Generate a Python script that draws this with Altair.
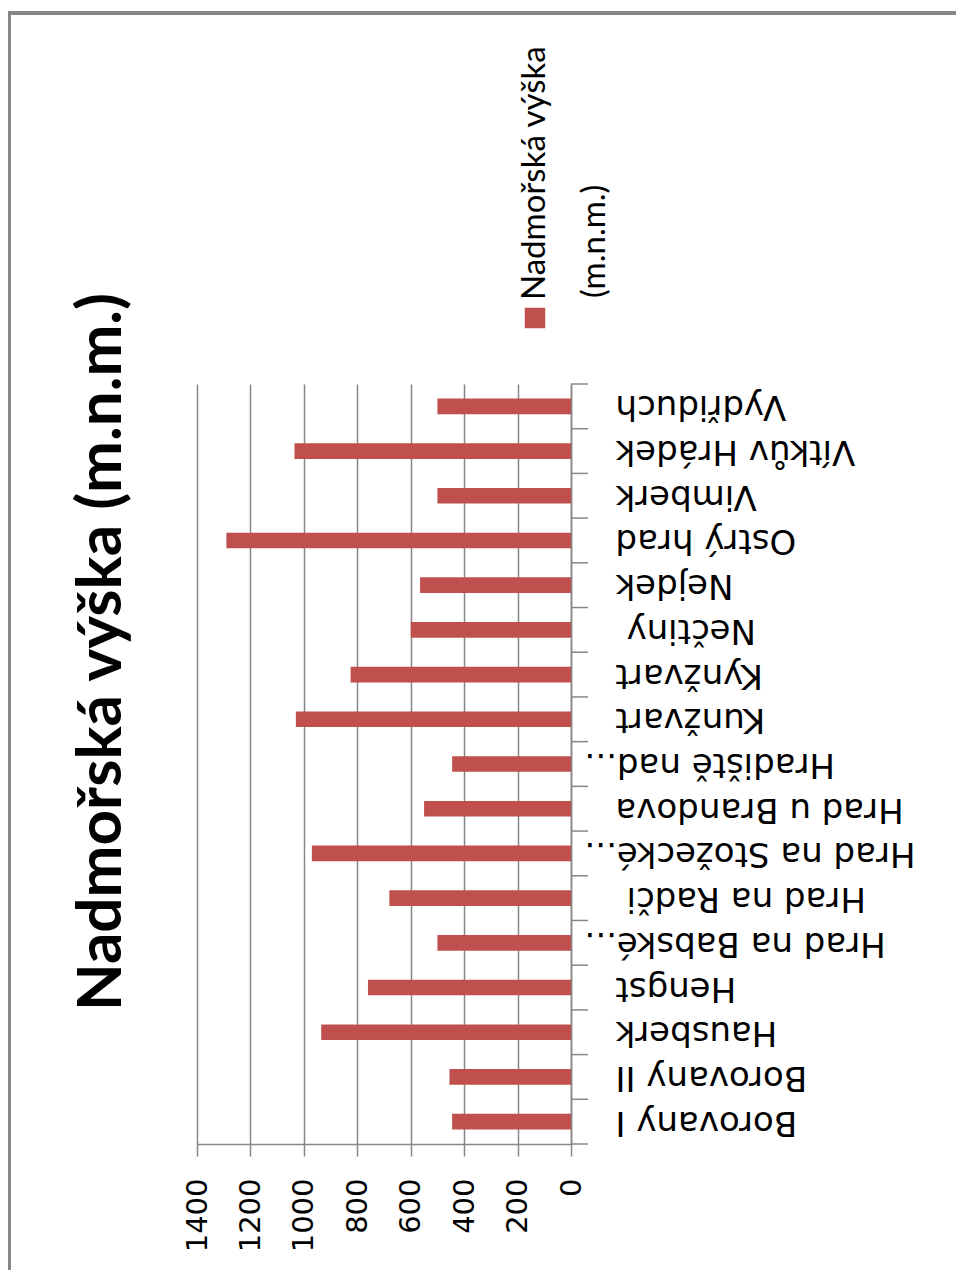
import altair as alt
import pandas as pd

# ---- data (Excel order, first = bottom) ----
CATEGORIES = [
    "Borovany I", "Borovany II", "Hausberk", "Hengst", "Hrad na Babské...",
    "Hrad na Radči", "Hrad na Stožecké...", "Hrad u Brandova", "Hradiště nad...",
    "Kunžvart", "Kynžvart", "Nečtiny", "Nejdek", "Ostrý hrad", "Vimberk",
    "Vítkův Hrádek", "Vydřiduch",
]
ALTITUDES = [445, 455, 935, 760, 500, 680, 970, 550, 445, 1030, 825, 600, 565,
             1290, 500, 1035, 500]
VALUE_TICKS = [0, 200, 400, 600, 800, 1000, 1200, 1400]
TITLE = "Nadmořská výška (m.n.m.)"
LEGEND_LINES = ["Nadmořská výška", "(m.n.m.)"]

RED = "#C0504D"
GRAY = "#878787"
W, H = 374, 760

df = pd.DataFrame({"cat": CATEGORIES, "alt": ALTITUDES})
order = list(reversed(CATEGORIES))

xscale = alt.Scale(domain=[0, 1400], reverse=True, nice=False, zero=True)
yscale = alt.Scale(paddingInner=0, paddingOuter=0)

bars = alt.Chart(df).mark_bar(color=RED, height=alt.RelativeBandSize(0.35)).encode(
    x=alt.X("alt:Q", scale=xscale, title=None,
            axis=alt.Axis(values=VALUE_TICKS, format="d", grid=True, gridColor=GRAY,
                          gridWidth=1.5, domainColor=GRAY, domainWidth=1.5,
                          tickColor=GRAY, tickWidth=1.5,
                          tickSize=12, labelAngle=270, labelAlign="right",
                          labelBaseline="middle", labelPadding=22, labelFont="DejaVu Sans",
                          labelFontSize=29, labelColor="#000000")),
    y=alt.Y("cat:N", sort=order, scale=yscale, title=None,
            axis=alt.Axis(orient="right", grid=False, domainColor=GRAY, domainWidth=1.5,
                          ticks=True, tickSize=17, tickOpacity=0,
                          labelAngle=180, labelAlign="right", labelBaseline="middle",
                          labelFont="DejaVu Sans", labelFontSize=34, labelColor="#000000",
                          labelLimit=0,
                          labelPadding={
                              "condition": [
                                  {"test": "indexof(datum.value, '...') >= 0", "value": -4},
                                  {"test": "datum.value == 'Nečtiny' || datum.value == 'Hrad na Radči'", "value": 38},
                              ],
                              "value": 27,
                          })),
)

ticks = alt.Chart(df).mark_rule(color=GRAY, strokeWidth=1.5).encode(
    y=alt.Y("cat:N", sort=order, bandPosition=0),
    x=alt.value(W), x2=alt.value(W + 17),
)
ticks_end = alt.Chart(df).transform_filter(
    alt.datum.cat == CATEGORIES[0]
).mark_rule(color=GRAY, strokeWidth=1.5).encode(
    y=alt.Y("cat:N", sort=order, bandPosition=1),
    x=alt.value(W), x2=alt.value(W + 17),
)

title_df = pd.DataFrame({"t": [TITLE]})
title = alt.Chart(title_df).mark_text(
    angle=270, align="center", baseline="middle", font="Lato", fontWeight="bold",
    fontSize=62, color="#000000"
).encode(text="t:N", x=alt.value(-95), y=alt.value(268))

leg1 = alt.Chart(pd.DataFrame({"t": [LEGEND_LINES[0]]})).mark_text(
    angle=270, align="left", baseline="middle", font="Lato", fontSize=33, color="#000000"
).encode(text="t:N", x=alt.value(338), y=alt.value(-84))
leg2 = alt.Chart(pd.DataFrame({"t": [LEGEND_LINES[1]]})).mark_text(
    angle=270, align="left", baseline="middle", font="Lato", fontSize=33, color="#000000"
).encode(text="t:N", x=alt.value(398), y=alt.value(-86))
leg_sym = alt.Chart(pd.DataFrame({"t": [LEGEND_LINES[0]]})).mark_square(
    size=420, color=RED, opacity=1
).encode(x=alt.value(338), y=alt.value(-66))

border_left = alt.Chart(title_df).mark_rule(color=GRAY, strokeWidth=4).encode(
    x=alt.value(-188), y=alt.value(-373), y2=alt.value(H + 140))
border_top = alt.Chart(title_df).mark_rule(color=GRAY, strokeWidth=4).encode(
    x=alt.value(-190), x2=alt.value(W + 400), y=alt.value(-371))

chart = alt.layer(
    bars, ticks, ticks_end, title, leg_sym, leg1, leg2, border_left, border_top
).properties(
    width=W, height=H,
    autosize=alt.AutoSizeParams(type="none"),
    padding={"left": 189, "top": 376, "right": 385, "bottom": 126},
    background="white",
).configure_view(stroke=None)

chart.save("out.html", embed_options={"renderer": "svg", "actions": False})
